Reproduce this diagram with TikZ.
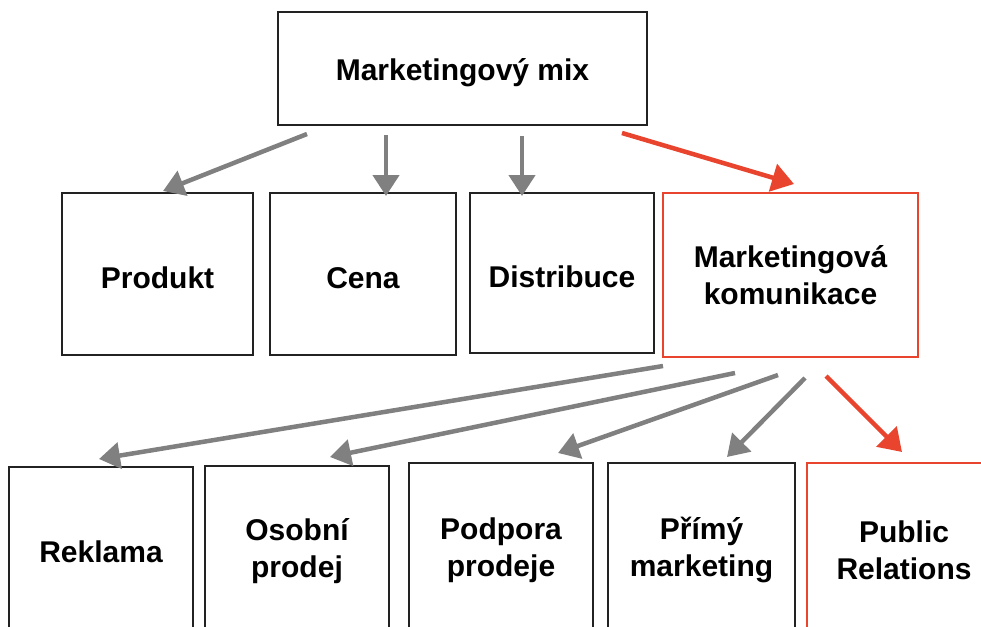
\documentclass[tikz,border=0pt]{standalone}
\usepackage{fontspec}
\setmainfont{Liberation Sans}
\usetikzlibrary{arrows.meta}
\definecolor{boxline}{HTML}{222222}
\definecolor{arrgray}{HTML}{808080}
\definecolor{hired}{HTML}{E8442E}
\newcommand{\dn}[1]{\raisebox{-4pt}[\height][\depth]{#1}}
\tikzset{
  box/.style={draw=boxline, line width=2pt, inner sep=0pt, align=center,
    font=\fontsize{30}{37}\selectfont\bfseries},
  redbox/.style={box, draw=hired, line width=1.6pt},
  grayarrow/.style={draw=arrgray, line width=4.5pt,
    -{Triangle[length=21pt,width=26pt]}},
  redarrow/.style={draw=hired, line width=4.5pt,
    -{Triangle[length=22pt,width=28pt]}},
}
\begin{document}
\begin{tikzpicture}[x=1pt,y=-1pt]
\useasboundingbox (0,0) rectangle (981,626);
\clip (0,0) rectangle (981,626);
% top
\node[box, minimum width=369pt, minimum height=113pt] (mix) at (462.5,68.5) {\dn{Marketingový mix}};
% second row
\node[box, minimum width=191pt, minimum height=162pt] (produkt) at (157.5,274) {\dn{Produkt}};
\node[box, minimum width=186pt, minimum height=162pt] (cena) at (363,274) {\dn{Cena}};
\node[box, minimum width=184pt, minimum height=160pt] (distribuce) at (562,273) {\dn{Distribuce}};
\node[redbox, minimum width=255pt, minimum height=164pt] (komunikace) at (790.5,275) {Marketingová\\komunikace};
% third row
\node[box, minimum width=184pt, minimum height=170pt] (reklama) at (101,552) {Reklama};
\node[box, minimum width=184pt, minimum height=170pt] (osobni) at (297,551) {Osobní\\prodej};
\node[box, minimum width=184pt, minimum height=174pt] (podpora) at (501,550) {Podpora\\prodeje};
\node[box, minimum width=187pt, minimum height=174pt] (primy) at (701.5,550) {Přímý\\marketing};
\node[redbox, minimum width=194pt, minimum height=174pt] (pr) at (904,550) {Public\\Relations};
% arrow end points
\coordinate (s1) at (307,134); \coordinate (t1) at (163,191);
\coordinate (s2) at (386,135); \coordinate (t2) at (386,196);
\coordinate (s3) at (522,136); \coordinate (t3) at (522,196);
\coordinate (s4) at (622,133); \coordinate (t4) at (794,184);
\coordinate (u1) at (663,366); \coordinate (v1) at (99,459);
\coordinate (u2) at (735,373); \coordinate (v2) at (330,457);
\coordinate (u3) at (778,375); \coordinate (v3) at (558,453);
\coordinate (u4) at (805,378); \coordinate (v4) at (727,457);
\coordinate (u5) at (826,376); \coordinate (v5) at (902,452);
\draw[grayarrow] (s1) -- (t1);
\draw[grayarrow] (s2) -- (t2);
\draw[grayarrow] (s3) -- (t3);
\draw[redarrow] (s4) -- (t4);
\draw[grayarrow] (u1) -- (v1);
\draw[grayarrow] (u2) -- (v2);
\draw[grayarrow] (u3) -- (v3);
\draw[grayarrow] (u4) -- (v4);
\draw[redarrow] (u5) -- (v5);
\end{tikzpicture}
\end{document}
